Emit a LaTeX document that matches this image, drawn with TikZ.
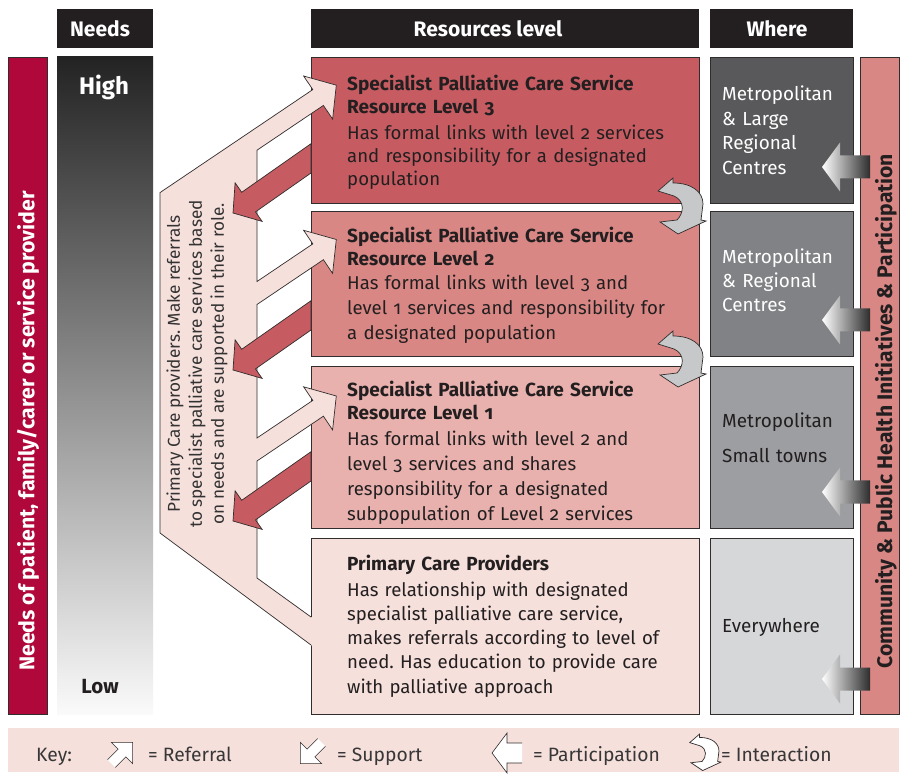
\documentclass[tikz,border=0pt]{standalone}
\usepackage{fontspec}
\setmainfont{Fira Sans}[Numbers=OldStyle]
\usetikzlibrary{calc}
\definecolor{hdr}{RGB}{35,31,32}
\definecolor{crimson}{RGB}{176,8,58}
\definecolor{lvlthree}{RGB}{198,92,97}
\definecolor{lvltwo}{RGB}{217,135,132}
\definecolor{lvlone}{RGB}{232,177,174}
\definecolor{primpink}{RGB}{246,224,220}
\definecolor{wone}{RGB}{89,89,91}
\definecolor{wtwo}{RGB}{129,130,133}
\definecolor{wthree}{RGB}{157,158,161}
\definecolor{wfour}{RGB}{214,215,217}
\definecolor{igray}{RGB}{199,200,202}
\definecolor{txt}{RGB}{35,31,32}
\definecolor{edgec}{RGB}{50,45,45}
\definecolor{keytxt}{RGB}{55,55,55}
\tikzset{
  boxline/.style={draw=edgec, line width=0.8pt},
  hdrtext/.style={text=white, font=\bfseries\fontsize{21}{24}\selectfont, inner sep=0},
  ttl/.style={anchor=base west, inner sep=0, align=left, text width=350pt, text=txt, font=\bfseries\fontsize{19}{22.5}\selectfont},
  bodytxt/.style={anchor=base west, inner sep=0, align=left, text width=350pt, text=txt},
  wheretxt/.style={anchor=base west, inner sep=0, align=left, text width=135pt},
  keylabel/.style={anchor=base west, inner sep=0, text=keytxt, font=\fontsize{19.3}{22}\selectfont},
  supportarrow/.style={fill=lvlthree, draw=edgec, line width=0.7pt, line join=miter},
  interarrow/.style={draw=edgec, line width=0.7pt},
}
\frenchspacing
\begin{document}
\begin{tikzpicture}[x=1pt,y=-1pt]
\useasboundingbox (0,0) rectangle (900,775);
\fill[white] (0,0) rectangle (900,775);

% headers
\fill[hdr] (57,9) rectangle (153,48);
\fill[hdr] (311,9) rectangle (699,48);
\fill[hdr] (710,9) rectangle (853,48);
\node[hdrtext] (hneeds) at (100,29) {Needs};
\node[hdrtext] (hres) at (488,29) {Resources level};
\node[hdrtext] (hwhere) at (777,29) {Where};

% left crimson bar
\path[fill=crimson, boxline] (8,57) rectangle (47,714);
\node[rotate=90, text=white, inner sep=0, font=\bfseries\fontsize{21.3}{24}\selectfont] (needsof) at (28,431) {Needs of patient, family/carer or service provider};

% needs gradient
\shade[top color={rgb,255:red,35;green,35;blue,35}, bottom color={rgb,255:red,250;green,250;blue,250}] (57,57) rectangle (153,714);
\node[text=white, inner sep=0, font=\bfseries\fontsize{24}{26}\selectfont] (high) at (104,87) {High};
\node[text=txt, inner sep=0, font=\bfseries\fontsize{20.5}{24}\selectfont] (low) at (100,687) {Low};

% resource boxes
\path[fill=lvlthree, boxline] (311,57) rectangle (699,203);
\path[fill=lvltwo, boxline] (311,211) rectangle (699,356);
\path[fill=lvlone, boxline] (311,366) rectangle (699,528);
\path[fill=primpink, boxline] (311,538) rectangle (699,714);

% where boxes
\path[fill=wone, boxline] (710,57) rectangle (853,203);
\path[fill=wtwo, boxline] (710,211) rectangle (853,356);
\path[fill=wthree, boxline] (710,366) rectangle (853,528);
\path[fill=wfour, boxline] (710,538) rectangle (853,714);

% right bar
\path[fill=lvltwo, boxline] (860,57) rectangle (899,714);
\node[rotate=90, text=txt, inner sep=0, font=\bfseries\fontsize{21.1}{24}\selectfont] (community) at (886,411) {Community \& Public Health Initiatives \& Participation};

% key bar
\fill[primpink] (8,728) rectangle (899,772);

% pink trunk with referral arrows
\fill[primpink] (312,645.7) -- (160,533) -- (160,192.6) -- (312.8,89.6) -- (303.6,76.0) -- (336.3,85.2) -- (332.6,119.1) -- (323.4,105.4) -- (257,150.2)
 -- (257,281.5) -- (312.8,243.9) -- (303.6,230.3) -- (336.3,239.5) -- (332.6,273.4) -- (323.4,259.7) -- (257,304.5)
 -- (257,438.0) -- (312.8,400.4) -- (303.6,386.8) -- (336.3,396.0) -- (332.6,429.9) -- (323.4,416.2) -- (257,461.0)
 -- (257,578) -- (312,617.6) -- cycle;
\draw[edgec, line width=0.7pt, line join=miter] (311,645) -- (160,533) -- (160,192.6) -- (312.8,89.6) -- (303.6,76.0) -- (336.3,85.2) -- (332.6,119.1) -- (323.4,105.4) -- (257,150.2)
 -- (257,281.5) -- (312.8,243.9) -- (303.6,230.3) -- (336.3,239.5) -- (332.6,273.4) -- (323.4,259.7) -- (257,304.5)
 -- (257,438.0) -- (312.8,400.4) -- (303.6,386.8) -- (336.3,396.0) -- (332.6,429.9) -- (323.4,416.2) -- (257,461.0)
 -- (257,578) -- (311,617);

% support arrows
\path[supportarrow] (311,143.7) -- (241.7,192.3) -- (235.1,182.8) -- (233,213) -- (262.1,221.4) -- (255.5,211.9) -- (311,173.0) -- cycle;
\path[supportarrow] (311,300.7) -- (241.7,349.3) -- (235.1,339.8) -- (233,370) -- (262.1,378.4) -- (255.5,368.9) -- (311,330.0) -- cycle;
\path[supportarrow] (311,451.7) -- (241.7,500.3) -- (235.1,490.8) -- (233,521) -- (262.1,529.4) -- (255.5,519.9) -- (311,481.0) -- cycle;

% trunk text
\node[rotate=90, align=center, inner sep=0, text={rgb,255:red,50;green,50;blue,50}, font=\fontsize{17.2}{22}\selectfont] (trunktext) at (197,364)
 {Primary Care providers. Make referrals\\to specialist palliative care services based\\on needs and are supported in their role.};

% interaction arrows
\foreach \cy in {207,360}{
\begin{scope}[shift={(680,\cy)}]
\path[interarrow, fill=igray] (-22,-16) -- (-7,-29) -- (-7,-24) .. controls (12,-24) and (23,-15) .. (23,-3) -- (21,13) -- (26,14) -- (-2,27) -- (-20,15) -- (-3,13) .. controls (4,6) and (5,-6) .. (-6,-11) -- cycle;
\end{scope}
}

% participation arrows
\foreach \cy in {167,320,492,679}{
\shade[left color=white, right color={rgb,255:red,45;green,45;blue,45}] (822,\cy) -- (840,\cy-24.5) -- (840,\cy-11.5) -- (870,\cy-11.5) -- (870,\cy+11.5) -- (840,\cy+11.5) -- (840,\cy+24.5) -- cycle;
}

% resource texts
\node[ttl] (t3) at (347,91) {Specialist Palliative Care Service\\Resource Level 3};
\node[bodytxt, font=\fontsize{18.6}{23}\selectfont] (b3) at (347,140) {Has formal links with level 2 services\\and responsibility for a designated\\population};
\node[ttl] (t2) at (347,243) {Specialist Palliative Care Service\\Resource Level 2};
\node[bodytxt, font=\fontsize{18.6}{25}\selectfont] (b2) at (347,290) {Has formal links with level 3 and\\level 1 services and responsibility for\\a designated population};
\node[ttl] (t1) at (347,397) {Specialist Palliative Care Service\\Resource Level 1};
\node[bodytxt, font=\fontsize{18.6}{24.7}\selectfont] (b1) at (347,446) {Has formal links with level 2 and\\level 3 services and shares\\responsibility for a designated\\subpopulation of Level 2 services};
\node[ttl] (tp) at (347,570) {Primary Care Providers};
\node[bodytxt, font=\fontsize{18.6}{24.25}\selectfont] (bp) at (347,596) {Has relationship with designated\\specialist palliative care service,\\makes referrals according to level of\\need. Has education to provide care\\with palliative approach};

% where texts
\node[wheretxt, text=white, font=\fontsize{18.9}{24.5}\selectfont] (w1) at (722,101) {Metropolitan\\\& Large\\Regional\\Centres};
\node[wheretxt, text=white, font=\fontsize{18.9}{24}\selectfont] (w2) at (722,264) {Metropolitan\\\& Regional\\Centres};
\node[wheretxt, text=txt, font=\fontsize{18.9}{35}\selectfont] (w3) at (722,428) {Metropolitan\\Small towns};
\node[wheretxt, text=txt, font=\fontsize{18.9}{24}\selectfont] (w4) at (722,632) {Everywhere};

% key
\node[keylabel] (keyk) at (36,761) {Key:};
\begin{scope}[shift={(122,753)}, rotate=45]
\fill[white] (-15,-5.5) -- (0,-5.5) -- (0,-15) -- (15,0) -- (0,15) -- (0,5.5) -- (-15,5.5) -- cycle;
\draw[edgec, line width=0.6pt] (-15,-5.5) -- (0,-5.5) -- (0,-15) -- (15,0) -- (0,15) -- (0,5.5) -- (-15,5.5);
\end{scope}
\node[keylabel] (keyref) at (148,761) {= Referral};
\begin{scope}[shift={(311,753)}, rotate=225]
\fill[white] (-15,-5.5) -- (0,-5.5) -- (0,-15) -- (15,0) -- (0,15) -- (0,5.5) -- (-15,5.5) -- cycle;
\draw[edgec, line width=0.6pt] (-15,-5.5) -- (0,-5.5) -- (0,-15) -- (15,0) -- (0,15) -- (0,5.5) -- (-15,5.5);
\end{scope}
\node[keylabel] (keysup) at (337,761) {= Support};
\fill[white] (522,743) -- (507,743) -- (507,733) -- (492,753) -- (507,773) -- (507,763) -- (522,763) -- cycle;
\draw[edgec, line width=0.6pt] (522,743) -- (507,743) -- (507,733) -- (492,753) -- (507,773) -- (507,763) -- (522,763);
\node[keylabel] (keypart) at (533,761) {= Participation};
\begin{scope}[shift={(704,753)}, scale=0.65]
\path[interarrow, fill=white] (-22,-16) -- (-7,-29) -- (-7,-24) .. controls (12,-24) and (23,-15) .. (23,-3) -- (21,13) -- (26,14) -- (-2,27) -- (-20,15) -- (-3,13) .. controls (4,6) and (5,-6) .. (-6,-11) -- cycle;
\end{scope}
\node[keylabel] (keyint) at (721,761) {= Interaction};
\end{tikzpicture}
\end{document}
